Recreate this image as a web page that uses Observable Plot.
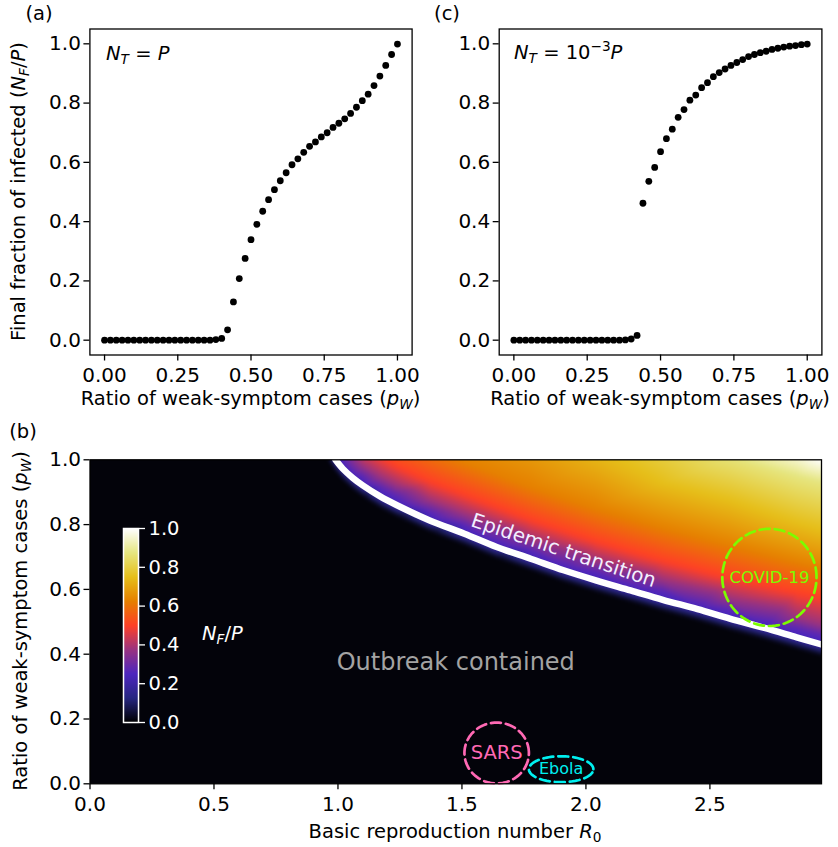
<!DOCTYPE html>
<html>
<head>
<meta charset="utf-8">
<script src="https://cdn.jsdelivr.net/npm/d3@7"></script>
<script src="https://cdn.jsdelivr.net/npm/@observablehq/plot@0.6"></script>
<style>
  body { margin: 0; background: #fff; }
  #fig { position: relative; width: 838px; height: 847px; font-family: "DejaVu Sans"; background: #fff; overflow: hidden; }
  #fig > svg { position: absolute; }
</style>
</head>
<body>
<div id="fig"></div>
<script>
// ---- Panels (a) and (c): final fraction of infected vs ratio of weak-symptom cases ----
const weakRatio = [
  0.00, 0.02, 0.04, 0.06, 0.08, 0.10, 0.12, 0.14, 0.16, 0.18,
  0.20, 0.22, 0.24, 0.26, 0.28, 0.30, 0.32, 0.34, 0.36, 0.38,
  0.40, 0.42, 0.44, 0.46, 0.48, 0.50, 0.52, 0.54, 0.56, 0.58,
  0.60, 0.62, 0.64, 0.66, 0.68, 0.70, 0.72, 0.74, 0.76, 0.78,
  0.80, 0.82, 0.84, 0.86, 0.88, 0.90, 0.92, 0.94, 0.96, 0.98, 1.00
];
// N_T = P
const fractionFullTesting = [
  0, 0, 0, 0, 0, 0, 0, 0, 0, 0,
  0, 0, 0, 0, 0, 0, 0, 0, 0, 0.002,
  0.006, 0.035, 0.129, 0.208, 0.276, 0.339, 0.391, 0.435, 0.474, 0.508,
  0.538, 0.565, 0.592, 0.612, 0.634, 0.654, 0.669, 0.686, 0.700, 0.718,
  0.732, 0.747, 0.765, 0.786, 0.808, 0.830, 0.859, 0.891, 0.927, 0.964, 0.999
];
// N_T = 10^-3 P
const fractionLimitedTesting = [
  0, 0, 0, 0, 0, 0, 0, 0, 0, 0,
  0, 0, 0, 0, 0, 0, 0, 0, 0, 0.001,
  0.004, 0.016, 0.462, 0.536, 0.583, 0.636, 0.680, 0.712, 0.752, 0.778,
  0.810, 0.827, 0.852, 0.869, 0.889, 0.903, 0.915, 0.927, 0.937, 0.947,
  0.957, 0.964, 0.970, 0.975, 0.981, 0.985, 0.989, 0.992, 0.994, 0.997, 0.999
];
const ratioTicks = [0, 0.25, 0.5, 0.75, 1];
const fractionTicks = [0, 0.2, 0.4, 0.6, 0.8, 1];

// ---- Panel (b): phase diagram over (R0, p_W) ----
const r0Ticks = [0, 0.5, 1, 1.5, 2, 2.5];
const pwTicks = [0, 0.2, 0.4, 0.6, 0.8, 1];
const colorbarTicks = [0, 0.2, 0.4, 0.6, 0.8, 1];

// epidemic transition line
const transitionR0 = [0.99, 1.02, 1.06, 1.10, 1.17, 1.24, 1.37, 1.51, 1.64, 1.78, 1.91, 2.04, 2.18, 2.31, 2.45, 2.58, 2.72, 2.85, 2.95];
const transitionPw = [1.00, 0.972, 0.944, 0.921, 0.887, 0.859, 0.813, 0.772, 0.731, 0.694, 0.659, 0.628, 0.597, 0.568, 0.539, 0.510, 0.481, 0.452, 0.430];
const transitionValue = 0.22;   // N_F/P just above the transition
const containedValue = 0.01;    // N_F/P where the outbreak is contained
const glowDepth = 0.035;        // soft edge under the transition line

// sampled N_F/P inside the epidemic region, column by column
const fieldR0 = [
  1.10, 1.10, 1.10,
  1.17, 1.17, 1.17,
  1.24, 1.24, 1.24, 1.24,
  1.37, 1.37, 1.37, 1.37,
  1.51, 1.51, 1.51, 1.51, 1.51,
  1.78, 1.78, 1.78, 1.78, 1.78,
  2.04, 2.04, 2.04, 2.04, 2.04, 2.04,
  2.31, 2.31, 2.31, 2.31, 2.31, 2.31,
  2.58, 2.58, 2.58, 2.58, 2.58, 2.58,
  2.85, 2.85, 2.85, 2.85, 2.85, 2.85, 2.85,
  2.95, 2.95, 2.95, 2.95, 2.95, 2.95, 2.95
];
const fieldPw = [
  0.951, 0.981, 1.00,
  0.917, 0.947, 1.00,
  0.889, 0.919, 0.979, 1.00,
  0.843, 0.873, 0.933, 1.00,
  0.802, 0.832, 0.892, 0.992, 1.00,
  0.724, 0.754, 0.814, 0.914, 1.00,
  0.658, 0.688, 0.748, 0.848, 0.988, 1.00,
  0.598, 0.628, 0.688, 0.788, 0.928, 1.00,
  0.540, 0.570, 0.635, 0.735, 0.875, 1.00,
  0.482, 0.512, 0.590, 0.683, 0.806, 0.950, 1.00,
  0.460, 0.490, 0.575, 0.665, 0.785, 0.930, 1.00
];
const fieldValue = [
  0.28, 0.375, 0.42,
  0.28, 0.375, 0.48,
  0.28, 0.375, 0.50, 0.53,
  0.28, 0.375, 0.50, 0.58,
  0.28, 0.375, 0.50, 0.625, 0.63,
  0.28, 0.375, 0.50, 0.625, 0.67,
  0.28, 0.375, 0.50, 0.625, 0.72, 0.73,
  0.28, 0.375, 0.50, 0.625, 0.75, 0.79,
  0.28, 0.375, 0.50, 0.625, 0.75, 0.86,
  0.28, 0.375, 0.50, 0.625, 0.75, 0.875, 0.95,
  0.28, 0.375, 0.50, 0.625, 0.75, 0.875, 1.00
];
// anchors of the contained region
const containedR0 = [0, 0, 0.96, 1.50, 2.95, 2.95, 0.50, 1.50];
const containedPw = [0, 1, 1.00, 0.00, 0.00, 0.30, 0.50, 0.40];

// known outbreaks
const outbreakNames = ["SARS", "Ebola", "COVID-19"];
const outbreakR0 = [1.64, 1.90, 2.74];
const outbreakPw = [0.095, 0.045, 0.637];
const outbreakSpanR0 = [0.13, 0.13, 0.19];
const outbreakSpanPw = [0.094, 0.040, 0.150];
const outbreakColors = ["#ff69b4", "#00f0f0", "#7cfc00"];
const outbreakFontSize = [19.5, 16, 16.5];

// CMRmap
const cmrStops = ["#000000", "#262680", "#4d26bf", "#993380", "#ff4026", "#e68000", "#e6bf1a", "#e6e680", "#ffffff"];
const cmr = d3.piecewise(d3.interpolateRgb, cmrStops);

const FONT = "DejaVu Sans";
const TICK_FONT = "20px";
const fig = document.getElementById("fig");

function place(el, left, top) {
  el.style.left = left + "px";
  el.style.top = top + "px";
  fig.appendChild(el);
}

function scatterPanel(values, width, marginLeft, marginRight) {
  const pts = weakRatio.map((p, i) => ({p, f: values[i]}));
  return Plot.plot({
    width, height: 420,
    marginLeft, marginRight, marginTop: 28.5, marginBottom: 65.5,
    x: {domain: [-0.05, 1.05]},
    y: {domain: [-0.05, 1.05]},
    style: {fontFamily: FONT, fontSize: TICK_FONT, color: "black", background: "transparent", overflow: "visible"},
    marks: [
      Plot.axisX({ticks: ratioTicks, tickFormat: d3.format(".2f"), tickSize: 6, tickPadding: 7, label: null, strokeWidth: 1.3}),
      Plot.axisY({ticks: fractionTicks, tickFormat: d3.format(".1f"), tickSize: 6, tickPadding: 3, label: null, strokeWidth: 1.3}),
      Plot.dot(pts, {x: "p", y: "f", r: 3.4, fill: "black", stroke: null}),
      Plot.frame({stroke: "black", strokeWidth: 1.3})
    ]
  });
}

place(scatterPanel(fractionFullTesting, 420, 89.4, 8.4), 0, 0);
place(scatterPanel(fractionLimitedTesting, 418, 78.7, 16.6), 420, 0);

// samples for the phase diagram
const samples = [];
transitionR0.forEach((r, i) => {
  samples.push({r0: r, pw: transitionPw[i], v: transitionValue});
  samples.push({r0: r, pw: transitionPw[i] - glowDepth, v: containedValue});
});
fieldR0.forEach((r, i) => samples.push({r0: r, pw: fieldPw[i], v: fieldValue[i]}));
containedR0.forEach((r, i) => samples.push({r0: r, pw: containedPw[i], v: containedValue}));

const transition = transitionR0.map((r, i) => ({r0: r, pw: transitionPw[i]}));

const outbreakMarks = outbreakNames.flatMap((name, i) => {
  const ring = d3.range(0, 96).map(k => {
    const a = (k / 96) * 2 * Math.PI;
    return {r0: outbreakR0[i] + outbreakSpanR0[i] * Math.cos(a), pw: outbreakPw[i] + outbreakSpanPw[i] * Math.sin(a)};
  });
  return [
    Plot.line(ring, {x: "r0", y: "pw", stroke: outbreakColors[i], strokeWidth: 2.7, strokeDasharray: "10,5", curve: "linear-closed"}),
    Plot.text([name], {x: outbreakR0[i], y: outbreakPw[i], text: d => d, fill: outbreakColors[i], fontSize: outbreakFontSize[i], fontFamily: FONT})
  ];
});

const phase = Plot.plot({
  width: 838, height: 407,
  marginLeft: 89.5, marginRight: 17, marginTop: 19.3, marginBottom: 63.7,
  x: {domain: [0, 2.95]},
  y: {domain: [0, 1]},
  color: {type: "linear", domain: [0, 1], interpolate: cmr},
  style: {fontFamily: FONT, fontSize: TICK_FONT, color: "black", background: "transparent", overflow: "visible"},
  marks: [
    Plot.raster(samples, {x: "r0", y: "pw", fill: "v", x1: 0, x2: 2.95, y1: 0, y2: 1, interpolate: "barycentric", pixelSize: 1, blur: 1.5}),
    Plot.line(transition, {x: "r0", y: "pw", stroke: "white", strokeWidth: 6.5, curve: "catmull-rom", clip: true}),
    Plot.text(["Epidemic transition"], {x: 1.91, y: 0.72, text: d => d, rotate: 18.5, fill: "#f3efff", fontSize: 20, fontFamily: FONT}),
    Plot.text(["Outbreak contained"], {x: 1.475, y: 0.374, text: d => d, fill: "#a3a3a3", fontSize: 24, fontFamily: FONT}),
    ...outbreakMarks,
    Plot.axisX({ticks: r0Ticks, tickFormat: d3.format(".1f"), tickSize: 6, tickPadding: 7, label: null, strokeWidth: 1.3}),
    Plot.axisY({ticks: pwTicks, tickFormat: d3.format(".1f"), tickSize: 6, tickPadding: 3, label: null, strokeWidth: 1.3}),
    Plot.frame({stroke: "black", strokeWidth: 1.3})
  ]
});
place(phase, 0, 440);

// inset colorbar
const colorbar = Plot.plot({
  width: 120, height: 230,
  marginLeft: 23, marginRight: 82, marginTop: 18, marginBottom: 18,
  x: {domain: [0, 1], axis: null},
  y: {domain: [0, 1]},
  color: {type: "linear", domain: [0, 1], interpolate: cmr},
  style: {fontFamily: FONT, fontSize: "19.5px", color: "white", background: "transparent", overflow: "visible"},
  marks: [
    Plot.raster({fill: (x, y) => y, x1: 0, x2: 1, y1: 0, y2: 1, pixelSize: 1}),
    Plot.axisY({anchor: "right", ticks: colorbarTicks, tickFormat: d3.format(".1f"), tickSize: 6, tickPadding: 4, label: null, strokeWidth: 1.3}),
    Plot.frame({stroke: "white", strokeWidth: 1.5})
  ]
});
place(colorbar, 100, 510);

// labels with sub/superscripts
const overlay = d3.create("svg")
  .attr("width", 838).attr("height", 847)
  .style("left", "0px").style("top", "0px").style("pointer-events", "none")
  .attr("font-family", FONT);

function rich(x, y, parts, {size = 19.5, fill = "black", anchor = "middle", rotate = 0} = {}) {
  const t = overlay.append("text")
    .attr("x", x).attr("y", y)
    .attr("font-size", size).attr("fill", fill)
    .attr("text-anchor", anchor)
    .style("white-space", "pre");
  if (rotate) t.attr("transform", `rotate(${rotate},${x},${y})`);
  let shift = 0;
  for (const p of parts) {
    const part = typeof p === "string" ? {t: p} : p;
    const target = part.sub ? size * 0.22 : part.sup ? -size * 0.42 : 0;
    const s = t.append("tspan").text(part.t).attr("dy", target - shift);
    shift = target;
    if (part.it) s.attr("font-style", "italic");
    if (part.sub || part.sup) s.attr("font-size", size * 0.7);
  }
}

const pW = [{t: "p", it: true}, {t: "W", it: true, sub: true}];
const nFP = [{t: "N", it: true}, {t: "F", it: true, sub: true}, {t: "/"}, {t: "P", it: true}];

rich(39, 20, ["(a)"]);
rich(447, 20, ["(c)"]);
rich(23, 438, ["(b)"]);

rich(25, 191.5, ["Final fraction of infected (", ...nFP, ")"], {rotate: -90});
rich(250.5, 405, ["Ratio of weak-symptom cases (", ...pW, ")"]);
rich(660, 405, ["Ratio of weak-symptom cases (", ...pW, ")"]);
rich(455, 838, ["Basic reproduction number ", {t: "R", it: true}, {t: "0", sub: true}]);
rich(27, 621, ["Ratio of weak-symptom cases (", ...pW, ")"], {rotate: -90});

rich(106, 60, [{t: "N", it: true}, {t: "T", it: true, sub: true}, " = ", {t: "P", it: true}], {anchor: "start"});
rich(514, 59, [{t: "N", it: true}, {t: "T", it: true, sub: true}, " = 10", {t: "\u22123", sup: true}, {t: "P", it: true}], {anchor: "start"});

rich(202, 640, nFP, {anchor: "start", fill: "white"});

fig.appendChild(overlay.node());
</script>
</body>
</html>
